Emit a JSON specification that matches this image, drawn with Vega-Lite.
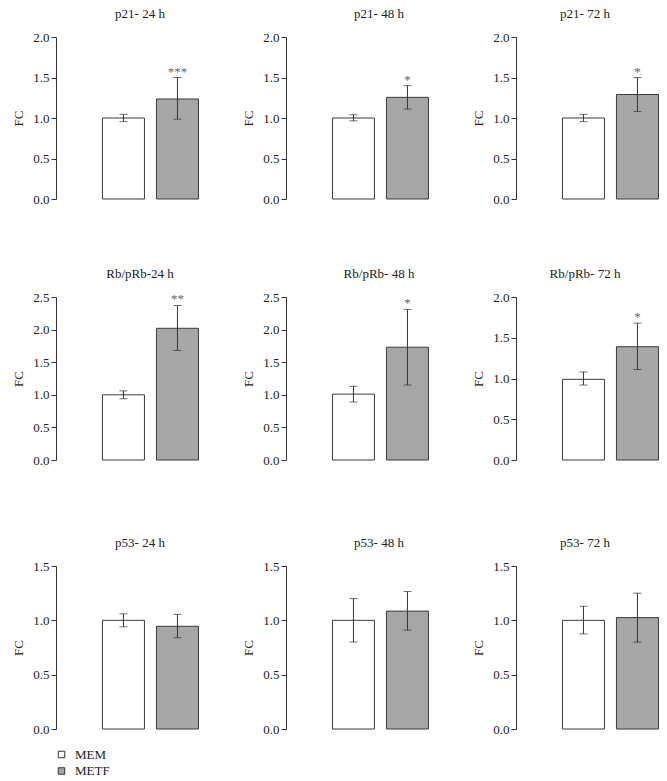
{
"$schema": "https://vega.github.io/schema/vega-lite/v6.json",
"padding": {"left": 12, "top": 8, "right": 0, "bottom": 0},
"background": "white",
"datasets": {"d": [
{"panel": "p21- 24 h", "group": "MEM", "fc": 1.0, "lo": 0.955, "hi": 1.045, "sig": ""},
{"panel": "p21- 24 h", "group": "METF", "fc": 1.235, "lo": 0.985, "hi": 1.5, "sig": "***"},
{"panel": "p21- 48 h", "group": "MEM", "fc": 1.0, "lo": 0.965, "hi": 1.04, "sig": ""},
{"panel": "p21- 48 h", "group": "METF", "fc": 1.255, "lo": 1.11, "hi": 1.4, "sig": "*"},
{"panel": "p21- 72 h", "group": "MEM", "fc": 1.0, "lo": 0.955, "hi": 1.045, "sig": ""},
{"panel": "p21- 72 h", "group": "METF", "fc": 1.29, "lo": 1.08, "hi": 1.5, "sig": "*"},
{"panel": "Rb/pRb-24 h", "group": "MEM", "fc": 1.0, "lo": 0.94, "hi": 1.06, "sig": ""},
{"panel": "Rb/pRb-24 h", "group": "METF", "fc": 2.02, "lo": 1.68, "hi": 2.37, "sig": "**"},
{"panel": "Rb/pRb- 48 h", "group": "MEM", "fc": 1.01, "lo": 0.89, "hi": 1.13, "sig": ""},
{"panel": "Rb/pRb- 48 h", "group": "METF", "fc": 1.73, "lo": 1.15, "hi": 2.31, "sig": "*"},
{"panel": "Rb/pRb- 72 h", "group": "MEM", "fc": 0.99, "lo": 0.92, "hi": 1.08, "sig": ""},
{"panel": "Rb/pRb- 72 h", "group": "METF", "fc": 1.39, "lo": 1.11, "hi": 1.68, "sig": "*"},
{"panel": "p53- 24 h", "group": "MEM", "fc": 1.0, "lo": 0.94, "hi": 1.06, "sig": ""},
{"panel": "p53- 24 h", "group": "METF", "fc": 0.945, "lo": 0.84, "hi": 1.055, "sig": ""},
{"panel": "p53- 48 h", "group": "MEM", "fc": 1.0, "lo": 0.8, "hi": 1.2, "sig": ""},
{"panel": "p53- 48 h", "group": "METF", "fc": 1.085, "lo": 0.91, "hi": 1.265, "sig": ""},
{"panel": "p53- 72 h", "group": "MEM", "fc": 1.0, "lo": 0.875, "hi": 1.13, "sig": ""},
{"panel": "p53- 72 h", "group": "METF", "fc": 1.025, "lo": 0.8, "hi": 1.25, "sig": ""}
]},
"spacing": 62,
"vconcat": [
{"hconcat": [
{"title": {"text": "p21- 24 h", "dx": 9}, "width": 150, "height": 162, "data": {"name": "d"}, "transform": [{"filter": {"field": "panel", "equal": "p21- 24 h"}}],
 "encoding": {"x": {"field": "group", "type": "nominal", "axis": null, "scale": {"domain": ["MEM", "METF"], "paddingInner": 0.2222, "paddingOuter": 0.5, "align": 0.86}}},
 "layer": [
  {"mark": {"type": "bar", "stroke": "#3a3a3a", "strokeWidth": 1}, "encoding": {"y": {"field": "fc", "type": "quantitative", "title": "FC", "scale": {"domain": [0, 2]}, "axis": {"values": [0, 0.5, 1, 1.5, 2]}}, "fill": {"field": "group", "type": "nominal", "scale": {"domain": ["MEM", "METF"], "range": ["#ffffff", "#a6a6a6"]}, "legend": {"title": null}}}},
  {"mark": {"type": "rule", "color": "#333333"}, "encoding": {"y": {"field": "lo", "type": "quantitative", "title": "FC", "scale": {"domain": [0, 2]}, "axis": {"values": [0, 0.5, 1, 1.5, 2]}}, "y2": {"field": "hi"}}},
  {"transform": [{"fold": ["lo", "hi"], "as": ["k", "v"]}], "mark": {"type": "tick", "color": "#333333", "size": 8, "thickness": 1}, "encoding": {"y": {"field": "v", "type": "quantitative", "title": "FC", "scale": {"domain": [0, 2]}, "axis": {"values": [0, 0.5, 1, 1.5, 2]}}}},
  {"mark": {"type": "text", "dy": -2, "baseline": "alphabetic", "color": "#666666", "fontSize": 13}, "encoding": {"y": {"field": "hi", "type": "quantitative", "title": "FC", "scale": {"domain": [0, 2]}, "axis": {"values": [0, 0.5, 1, 1.5, 2]}}, "text": {"field": "sig"}}}
 ]},
{"title": {"text": "p21- 48 h", "dx": 18}, "width": 150, "height": 162, "data": {"name": "d"}, "transform": [{"filter": {"field": "panel", "equal": "p21- 48 h"}}],
 "encoding": {"x": {"field": "group", "type": "nominal", "axis": null, "scale": {"domain": ["MEM", "METF"], "paddingInner": 0.2222, "paddingOuter": 0.5, "align": 0.86}}},
 "layer": [
  {"mark": {"type": "bar", "stroke": "#3a3a3a", "strokeWidth": 1}, "encoding": {"y": {"field": "fc", "type": "quantitative", "title": "FC", "scale": {"domain": [0, 2]}, "axis": {"values": [0, 0.5, 1, 1.5, 2]}}, "fill": {"field": "group", "type": "nominal", "scale": {"domain": ["MEM", "METF"], "range": ["#ffffff", "#a6a6a6"]}, "legend": {"title": null}}}},
  {"mark": {"type": "rule", "color": "#333333"}, "encoding": {"y": {"field": "lo", "type": "quantitative", "title": "FC", "scale": {"domain": [0, 2]}, "axis": {"values": [0, 0.5, 1, 1.5, 2]}}, "y2": {"field": "hi"}}},
  {"transform": [{"fold": ["lo", "hi"], "as": ["k", "v"]}], "mark": {"type": "tick", "color": "#333333", "size": 8, "thickness": 1}, "encoding": {"y": {"field": "v", "type": "quantitative", "title": "FC", "scale": {"domain": [0, 2]}, "axis": {"values": [0, 0.5, 1, 1.5, 2]}}}},
  {"mark": {"type": "text", "dy": -2, "baseline": "alphabetic", "color": "#666666", "fontSize": 13}, "encoding": {"y": {"field": "hi", "type": "quantitative", "title": "FC", "scale": {"domain": [0, 2]}, "axis": {"values": [0, 0.5, 1, 1.5, 2]}}, "text": {"field": "sig"}}}
 ]},
{"title": {"text": "p21- 72 h", "dx": -6}, "width": 150, "height": 162, "data": {"name": "d"}, "transform": [{"filter": {"field": "panel", "equal": "p21- 72 h"}}],
 "encoding": {"x": {"field": "group", "type": "nominal", "axis": null, "scale": {"domain": ["MEM", "METF"], "paddingInner": 0.2222, "paddingOuter": 0.5, "align": 0.86}}},
 "layer": [
  {"mark": {"type": "bar", "stroke": "#3a3a3a", "strokeWidth": 1}, "encoding": {"y": {"field": "fc", "type": "quantitative", "title": "FC", "scale": {"domain": [0, 2]}, "axis": {"values": [0, 0.5, 1, 1.5, 2]}}, "fill": {"field": "group", "type": "nominal", "scale": {"domain": ["MEM", "METF"], "range": ["#ffffff", "#a6a6a6"]}, "legend": {"title": null}}}},
  {"mark": {"type": "rule", "color": "#333333"}, "encoding": {"y": {"field": "lo", "type": "quantitative", "title": "FC", "scale": {"domain": [0, 2]}, "axis": {"values": [0, 0.5, 1, 1.5, 2]}}, "y2": {"field": "hi"}}},
  {"transform": [{"fold": ["lo", "hi"], "as": ["k", "v"]}], "mark": {"type": "tick", "color": "#333333", "size": 8, "thickness": 1}, "encoding": {"y": {"field": "v", "type": "quantitative", "title": "FC", "scale": {"domain": [0, 2]}, "axis": {"values": [0, 0.5, 1, 1.5, 2]}}}},
  {"mark": {"type": "text", "dy": -2, "baseline": "alphabetic", "color": "#666666", "fontSize": 13}, "encoding": {"y": {"field": "hi", "type": "quantitative", "title": "FC", "scale": {"domain": [0, 2]}, "axis": {"values": [0, 0.5, 1, 1.5, 2]}}, "text": {"field": "sig"}}}
 ]}
]},
{"spacing": 70, "vconcat": [
{"hconcat": [
{"title": {"text": "Rb/pRb-24 h", "dx": 9}, "width": 150, "height": 163, "data": {"name": "d"}, "transform": [{"filter": {"field": "panel", "equal": "Rb/pRb-24 h"}}],
 "encoding": {"x": {"field": "group", "type": "nominal", "axis": null, "scale": {"domain": ["MEM", "METF"], "paddingInner": 0.2222, "paddingOuter": 0.5, "align": 0.86}}},
 "layer": [
  {"mark": {"type": "bar", "stroke": "#3a3a3a", "strokeWidth": 1}, "encoding": {"y": {"field": "fc", "type": "quantitative", "title": "FC", "scale": {"domain": [0, 2.5]}, "axis": {"values": [0, 0.5, 1, 1.5, 2, 2.5]}}, "fill": {"field": "group", "type": "nominal", "scale": {"domain": ["MEM", "METF"], "range": ["#ffffff", "#a6a6a6"]}, "legend": {"title": null}}}},
  {"mark": {"type": "rule", "color": "#333333"}, "encoding": {"y": {"field": "lo", "type": "quantitative", "title": "FC", "scale": {"domain": [0, 2.5]}, "axis": {"values": [0, 0.5, 1, 1.5, 2, 2.5]}}, "y2": {"field": "hi"}}},
  {"transform": [{"fold": ["lo", "hi"], "as": ["k", "v"]}], "mark": {"type": "tick", "color": "#333333", "size": 8, "thickness": 1}, "encoding": {"y": {"field": "v", "type": "quantitative", "title": "FC", "scale": {"domain": [0, 2.5]}, "axis": {"values": [0, 0.5, 1, 1.5, 2, 2.5]}}}},
  {"mark": {"type": "text", "dy": -2, "baseline": "alphabetic", "color": "#666666", "fontSize": 13}, "encoding": {"y": {"field": "hi", "type": "quantitative", "title": "FC", "scale": {"domain": [0, 2.5]}, "axis": {"values": [0, 0.5, 1, 1.5, 2, 2.5]}}, "text": {"field": "sig"}}}
 ]},
{"title": {"text": "Rb/pRb- 48 h", "dx": 18}, "width": 150, "height": 163, "data": {"name": "d"}, "transform": [{"filter": {"field": "panel", "equal": "Rb/pRb- 48 h"}}],
 "encoding": {"x": {"field": "group", "type": "nominal", "axis": null, "scale": {"domain": ["MEM", "METF"], "paddingInner": 0.2222, "paddingOuter": 0.5, "align": 0.86}}},
 "layer": [
  {"mark": {"type": "bar", "stroke": "#3a3a3a", "strokeWidth": 1}, "encoding": {"y": {"field": "fc", "type": "quantitative", "title": "FC", "scale": {"domain": [0, 2.5]}, "axis": {"values": [0, 0.5, 1, 1.5, 2, 2.5]}}, "fill": {"field": "group", "type": "nominal", "scale": {"domain": ["MEM", "METF"], "range": ["#ffffff", "#a6a6a6"]}, "legend": {"title": null}}}},
  {"mark": {"type": "rule", "color": "#333333"}, "encoding": {"y": {"field": "lo", "type": "quantitative", "title": "FC", "scale": {"domain": [0, 2.5]}, "axis": {"values": [0, 0.5, 1, 1.5, 2, 2.5]}}, "y2": {"field": "hi"}}},
  {"transform": [{"fold": ["lo", "hi"], "as": ["k", "v"]}], "mark": {"type": "tick", "color": "#333333", "size": 8, "thickness": 1}, "encoding": {"y": {"field": "v", "type": "quantitative", "title": "FC", "scale": {"domain": [0, 2.5]}, "axis": {"values": [0, 0.5, 1, 1.5, 2, 2.5]}}}},
  {"mark": {"type": "text", "dy": -2, "baseline": "alphabetic", "color": "#666666", "fontSize": 13}, "encoding": {"y": {"field": "hi", "type": "quantitative", "title": "FC", "scale": {"domain": [0, 2.5]}, "axis": {"values": [0, 0.5, 1, 1.5, 2, 2.5]}}, "text": {"field": "sig"}}}
 ]},
{"title": {"text": "Rb/pRb- 72 h", "dx": -6}, "width": 150, "height": 163, "data": {"name": "d"}, "transform": [{"filter": {"field": "panel", "equal": "Rb/pRb- 72 h"}}],
 "encoding": {"x": {"field": "group", "type": "nominal", "axis": null, "scale": {"domain": ["MEM", "METF"], "paddingInner": 0.2222, "paddingOuter": 0.5, "align": 0.86}}},
 "layer": [
  {"mark": {"type": "bar", "stroke": "#3a3a3a", "strokeWidth": 1}, "encoding": {"y": {"field": "fc", "type": "quantitative", "title": "FC", "scale": {"domain": [0, 2]}, "axis": {"values": [0, 0.5, 1, 1.5, 2]}}, "fill": {"field": "group", "type": "nominal", "scale": {"domain": ["MEM", "METF"], "range": ["#ffffff", "#a6a6a6"]}, "legend": {"title": null}}}},
  {"mark": {"type": "rule", "color": "#333333"}, "encoding": {"y": {"field": "lo", "type": "quantitative", "title": "FC", "scale": {"domain": [0, 2]}, "axis": {"values": [0, 0.5, 1, 1.5, 2]}}, "y2": {"field": "hi"}}},
  {"transform": [{"fold": ["lo", "hi"], "as": ["k", "v"]}], "mark": {"type": "tick", "color": "#333333", "size": 8, "thickness": 1}, "encoding": {"y": {"field": "v", "type": "quantitative", "title": "FC", "scale": {"domain": [0, 2]}, "axis": {"values": [0, 0.5, 1, 1.5, 2]}}}},
  {"mark": {"type": "text", "dy": -2, "baseline": "alphabetic", "color": "#666666", "fontSize": 13}, "encoding": {"y": {"field": "hi", "type": "quantitative", "title": "FC", "scale": {"domain": [0, 2]}, "axis": {"values": [0, 0.5, 1, 1.5, 2]}}, "text": {"field": "sig"}}}
 ]}
]},
{"hconcat": [
{"title": {"text": "p53- 24 h", "dx": 9}, "width": 150, "height": 163, "data": {"name": "d"}, "transform": [{"filter": {"field": "panel", "equal": "p53- 24 h"}}],
 "encoding": {"x": {"field": "group", "type": "nominal", "axis": null, "scale": {"domain": ["MEM", "METF"], "paddingInner": 0.2222, "paddingOuter": 0.5, "align": 0.86}}},
 "layer": [
  {"mark": {"type": "bar", "stroke": "#3a3a3a", "strokeWidth": 1}, "encoding": {"y": {"field": "fc", "type": "quantitative", "title": "FC", "scale": {"domain": [0, 1.5]}, "axis": {"values": [0, 0.5, 1, 1.5]}}, "fill": {"field": "group", "type": "nominal", "scale": {"domain": ["MEM", "METF"], "range": ["#ffffff", "#a6a6a6"]}, "legend": {"title": null}}}},
  {"mark": {"type": "rule", "color": "#333333"}, "encoding": {"y": {"field": "lo", "type": "quantitative", "title": "FC", "scale": {"domain": [0, 1.5]}, "axis": {"values": [0, 0.5, 1, 1.5]}}, "y2": {"field": "hi"}}},
  {"transform": [{"fold": ["lo", "hi"], "as": ["k", "v"]}], "mark": {"type": "tick", "color": "#333333", "size": 8, "thickness": 1}, "encoding": {"y": {"field": "v", "type": "quantitative", "title": "FC", "scale": {"domain": [0, 1.5]}, "axis": {"values": [0, 0.5, 1, 1.5]}}}}
 ]},
{"title": {"text": "p53- 48 h", "dx": 18}, "width": 150, "height": 163, "data": {"name": "d"}, "transform": [{"filter": {"field": "panel", "equal": "p53- 48 h"}}],
 "encoding": {"x": {"field": "group", "type": "nominal", "axis": null, "scale": {"domain": ["MEM", "METF"], "paddingInner": 0.2222, "paddingOuter": 0.5, "align": 0.86}}},
 "layer": [
  {"mark": {"type": "bar", "stroke": "#3a3a3a", "strokeWidth": 1}, "encoding": {"y": {"field": "fc", "type": "quantitative", "title": "FC", "scale": {"domain": [0, 1.5]}, "axis": {"values": [0, 0.5, 1, 1.5]}}, "fill": {"field": "group", "type": "nominal", "scale": {"domain": ["MEM", "METF"], "range": ["#ffffff", "#a6a6a6"]}, "legend": {"title": null}}}},
  {"mark": {"type": "rule", "color": "#333333"}, "encoding": {"y": {"field": "lo", "type": "quantitative", "title": "FC", "scale": {"domain": [0, 1.5]}, "axis": {"values": [0, 0.5, 1, 1.5]}}, "y2": {"field": "hi"}}},
  {"transform": [{"fold": ["lo", "hi"], "as": ["k", "v"]}], "mark": {"type": "tick", "color": "#333333", "size": 8, "thickness": 1}, "encoding": {"y": {"field": "v", "type": "quantitative", "title": "FC", "scale": {"domain": [0, 1.5]}, "axis": {"values": [0, 0.5, 1, 1.5]}}}}
 ]},
{"title": {"text": "p53- 72 h", "dx": -6}, "width": 150, "height": 163, "data": {"name": "d"}, "transform": [{"filter": {"field": "panel", "equal": "p53- 72 h"}}],
 "encoding": {"x": {"field": "group", "type": "nominal", "axis": null, "scale": {"domain": ["MEM", "METF"], "paddingInner": 0.2222, "paddingOuter": 0.5, "align": 0.86}}},
 "layer": [
  {"mark": {"type": "bar", "stroke": "#3a3a3a", "strokeWidth": 1}, "encoding": {"y": {"field": "fc", "type": "quantitative", "title": "FC", "scale": {"domain": [0, 1.5]}, "axis": {"values": [0, 0.5, 1, 1.5]}}, "fill": {"field": "group", "type": "nominal", "scale": {"domain": ["MEM", "METF"], "range": ["#ffffff", "#a6a6a6"]}, "legend": {"title": null}}}},
  {"mark": {"type": "rule", "color": "#333333"}, "encoding": {"y": {"field": "lo", "type": "quantitative", "title": "FC", "scale": {"domain": [0, 1.5]}, "axis": {"values": [0, 0.5, 1, 1.5]}}, "y2": {"field": "hi"}}},
  {"transform": [{"fold": ["lo", "hi"], "as": ["k", "v"]}], "mark": {"type": "tick", "color": "#333333", "size": 8, "thickness": 1}, "encoding": {"y": {"field": "v", "type": "quantitative", "title": "FC", "scale": {"domain": [0, 1.5]}, "axis": {"values": [0, 0.5, 1, 1.5]}}}}
 ]}
]}
]}
],
"config": {
 "concat": {"spacing": 36},
 "view": {"stroke": null},
 "font": "Liberation Serif",
 "text": {"font": "Liberation Serif"},
 "title": {"font": "Liberation Serif", "fontSize": 13, "fontWeight": "normal", "color": "#222222", "offset": 10, "frame": "group"},
 "axisY": {"format": ".1f", "grid": false, "domainColor": "#333333", "tickColor": "#333333", "tickSize": 5, "labelPadding": 2, "labelFont": "Liberation Serif", "labelFontSize": 13, "labelColor": "#222222", "labelOverlap": false, "titleFont": "Liberation Serif", "titleFontSize": 13, "titleFontWeight": "normal", "titleColor": "#222222", "titlePadding": 7},
 "legend": {"orient": "none", "legendX": -1, "legendY": 711, "symbolType": "square", "symbolSize": 42, "symbolStrokeColor": "#333333", "symbolStrokeWidth": 1, "labelFont": "Liberation Serif", "labelFontSize": 13, "labelColor": "#222222", "rowPadding": 2.5, "labelOffset": 7}
}
}
